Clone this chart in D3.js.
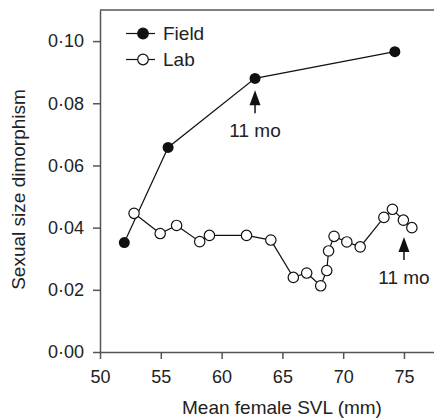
<!DOCTYPE html>
<html lang="en">
<head>
    <meta charset="utf-8">
    <title>dimorphism</title>
    <script type="text/javascript" src="https://cdnjs.cloudflare.com/ajax/libs/d3/7.8.5/d3.min.js"></script>
    <style>
      body { margin: 0; background: #fff; }
      text { font-family: "Liberation Sans", Arial, sans-serif; fill: #222; }
    </style>
</head>
<body>
    <script type="text/javascript">
      // data
      var fieldSVL = [52.0, 55.6, 62.75, 74.25];
      var fieldSSD = [0.0352, 0.0658, 0.0880, 0.0966];

      var labSVL = [52.8, 54.95, 56.3, 58.2, 59.0, 62.05, 64.05, 65.9, 67.0, 68.15,
                    68.65, 68.8, 69.25, 70.3, 71.4, 73.35, 74.05, 74.95, 75.65];
      var labSSD = [0.0446, 0.0381, 0.0407, 0.0355, 0.0375, 0.0375, 0.0360, 0.0240, 0.0254, 0.0213,
                    0.0262, 0.0325, 0.0372, 0.0354, 0.0338, 0.0433, 0.0459, 0.0424, 0.0400];

      var xTicks = [50, 55, 60, 65, 70, 75];
      var yTicks = [0, 0.02, 0.04, 0.06, 0.08, 0.10];

      // "11 mo" arrows: [x, y of arrow tip]
      var arrowX = [62.75, 75];
      var arrowY = [0.0842, 0.0370];

      var width = 434, height = 420;
      var margin = {top: 10, left: 100, bottom: 68};

      var xScale = d3.scaleLinear().domain([50, 77.47]).range([margin.left, width]);
      var yScale = d3.scaleLinear().domain([0, 0.11]).range([height - margin.bottom, margin.top]);

      var svg = d3.select("body").append("svg")
                  .attr("width", width)
                  .attr("height", height);

      var axisColor = "#555";

      // frame top line
      svg.append("line")
         .attr("x1", margin.left).attr("x2", width)
         .attr("y1", margin.top).attr("y2", margin.top)
         .attr("stroke", axisColor).attr("stroke-width", 1.5);

      var fmt = function(d) { return d3.format(".2f")(d).replace(".", "\u00b7"); };

      var yAxis = svg.append("g")
         .attr("transform", "translate(" + margin.left + ",0)")
         .call(d3.axisLeft(yScale).tickValues(yTicks).tickFormat(fmt).tickSizeInner(7).tickSizeOuter(0).tickPadding(9));

      var xAxis = svg.append("g")
         .attr("transform", "translate(0," + (height - margin.bottom) + ")")
         .call(d3.axisBottom(xScale).tickValues(xTicks).tickSizeInner(7).tickSizeOuter(0).tickPadding(11));

      [xAxis, yAxis].forEach(function(a) {
        a.select(".domain").attr("stroke", axisColor).attr("stroke-width", 1.5);
        a.selectAll(".tick line").attr("stroke", axisColor).attr("stroke-width", 1.5);
        a.selectAll(".tick text").attr("font-size", 18).attr("fill", "#222")
         .attr("font-family", "Liberation Sans, Arial, sans-serif");
      });

      // axis titles
      svg.append("text")
         .attr("x", 282).attr("y", 414)
         .attr("text-anchor", "middle")
         .attr("font-size", 19)
         .text("Mean female SVL (mm)");

      svg.append("text")
         .attr("transform", "translate(25,189.5) rotate(-90)")
         .attr("text-anchor", "middle")
         .attr("font-size", 19)
         .text("Sexual size dimorphism");

      var line = d3.line()
                   .x(function(d) { return xScale(d[0]); })
                   .y(function(d) { return yScale(d[1]); });

      var field = fieldSVL.map(function(v, i) { return [v, fieldSSD[i]]; });
      var lab = labSVL.map(function(v, i) { return [v, labSSD[i]]; });

      svg.append("path").datum(field)
         .attr("d", line).attr("fill", "none").attr("stroke", "#111").attr("stroke-width", 1.2);
      svg.append("path").datum(lab)
         .attr("d", line).attr("fill", "none").attr("stroke", "#111").attr("stroke-width", 1.2);

      svg.selectAll(".lab").data(lab).enter().append("circle")
         .attr("cx", function(d) { return xScale(d[0]); })
         .attr("cy", function(d) { return yScale(d[1]); })
         .attr("r", 5.2)
         .attr("fill", "#fff").attr("stroke", "#111").attr("stroke-width", 1.2);

      svg.selectAll(".field").data(field).enter().append("circle")
         .attr("cx", function(d) { return xScale(d[0]); })
         .attr("cy", function(d) { return yScale(d[1]); })
         .attr("r", 5.5)
         .attr("fill", "#111");

      // arrows with "11 mo"
      arrowX.forEach(function(ax, i) {
        var x = xScale(ax), y = yScale(arrowY[i]);
        svg.append("path")
           .attr("d", "M" + x + "," + y + " L" + (x - 5.5) + "," + (y + 15) + " L" + (x + 5.5) + "," + (y + 15) + " Z")
           .attr("fill", "#111");
        svg.append("line")
           .attr("x1", x).attr("x2", x).attr("y1", y + 14).attr("y2", y + 23)
           .attr("stroke", "#111").attr("stroke-width", 1.5);
        svg.append("text")
           .attr("x", x).attr("y", y + 47)
           .attr("text-anchor", "middle")
           .attr("font-size", 19)
           .text("11 mo");
      });

      // legend
      var legend = [["Field", "#111"], ["Lab", "#fff"]];
      legend.forEach(function(l, i) {
        var ly = 33.5 + i * 26;
        svg.append("line")
           .attr("x1", 126).attr("x2", 155).attr("y1", ly).attr("y2", ly)
           .attr("stroke", "#111").attr("stroke-width", 1.2);
        svg.append("circle")
           .attr("cx", 143).attr("cy", ly).attr("r", 5.3)
           .attr("fill", l[1]).attr("stroke", "#111").attr("stroke-width", 1.2);
        svg.append("text")
           .attr("x", 163).attr("y", ly + 6.5)
           .attr("font-size", 19)
           .text(l[0]);
      });
    </script>
</body>
</html>
